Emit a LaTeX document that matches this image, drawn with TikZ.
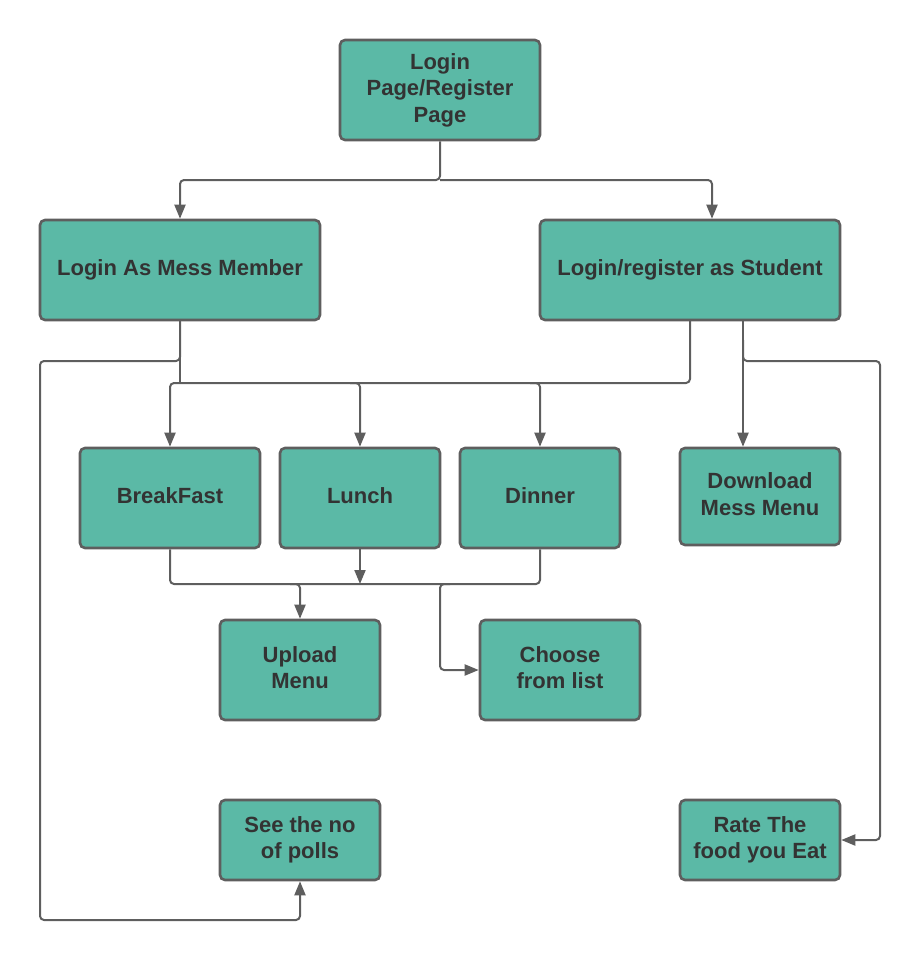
\documentclass[tikz,border=0pt]{standalone}
\usepackage{fontspec}
\setmainfont{Liberation Sans}
\usetikzlibrary{arrows.meta}
\definecolor{boxfill}{HTML}{5BB9A6}
\definecolor{linec}{HTML}{5E5E5E}
\definecolor{txt}{HTML}{333333}
\begin{document}
\begin{tikzpicture}[x=1pt,y=-1pt,
  box/.style={draw=linec, fill=boxfill, line width=2.6pt, rounded corners=5pt,
    inner sep=0pt, align=center, text=txt,
    font=\fontsize{22}{26.5}\selectfont\bfseries},
  conn/.style={draw=linec, line width=2pt, rounded corners=4pt},
  arr/.style={conn, -{Triangle[length=14pt,width=11pt]}}]
\useasboundingbox (0,0) rectangle (922,962);
\node[box, minimum width=200pt, minimum height=100pt] (login) at (440,90) {Login\\Page/Register\\Page\vphantom{g}};
\node[box, minimum width=280pt, minimum height=100pt] (mess) at (180,270) {Login As Mess Member\vphantom{g}};
\node[box, minimum width=300pt, minimum height=100pt] (student) at (690,270) {Login/register as Student\vphantom{g}};
\node[box, minimum width=180pt, minimum height=100pt] (bf) at (170,498) {BreakFast\vphantom{g}};
\node[box, minimum width=160pt, minimum height=100pt] (lunch) at (360,498) {Lunch\vphantom{g}};
\node[box, minimum width=160pt, minimum height=100pt] (dinner) at (540,498) {Dinner\vphantom{g}};
\node[box, minimum width=160pt, minimum height=97pt] (download) at (760,496.5) {Download\\Mess Menu\vphantom{g}};
\node[box, minimum width=160pt, minimum height=100pt] (upload) at (300,670) {Upload\\Menu\vphantom{g}};
\node[box, minimum width=160pt, minimum height=100pt] (choose) at (560,670) {Choose\\from list\vphantom{g}};
\node[box, minimum width=160pt, minimum height=80pt] (polls) at (300,840) {See the no\\of polls\vphantom{g}};
\node[box, minimum width=160pt, minimum height=80pt] (rate) at (760,840) {Rate The\\food you Eat\vphantom{g}};
\coordinate (top) at (440,180);
% top split
\draw[arr] (login.south) -- (top) -| (mess.north);
\draw[arr] (top) -| ([xshift=22pt]student.north);
% mess member to polls
\draw[arr] (mess.south) -- (180,361) -- (40,361) -- (40,920) -- (300,920) -- (polls.south);
% to meals
\draw[conn] (mess.south) -- (180,383);
\draw[arr] (690,320) -- (690,383) -- (170,383) -- (bf.north);
\draw[arr] (350,383) -- (360,383) -- (lunch.north);
\draw[arr] (530,383) -- (540,383) -- (dinner.north);
% student right side
\draw[arr] ([xshift=53pt]student.south) -- ([xshift=-17pt]download.north);
\draw[arr] (743,340) -- (743,361) -- (880,361) -- (880,840) -- (rate.east);
% meals to upload/choose
\draw[conn] (bf.south) -- (170,584) -- (540,584) -- (dinner.south);
\draw[arr] (lunch.south) -- (360,584);
\draw[arr] (290,584) -- (300,584) -- (upload.north);
\draw[arr] (450,584) -- (440,584) -- (440,670) -- (choose.west);
\end{tikzpicture}
\end{document}
